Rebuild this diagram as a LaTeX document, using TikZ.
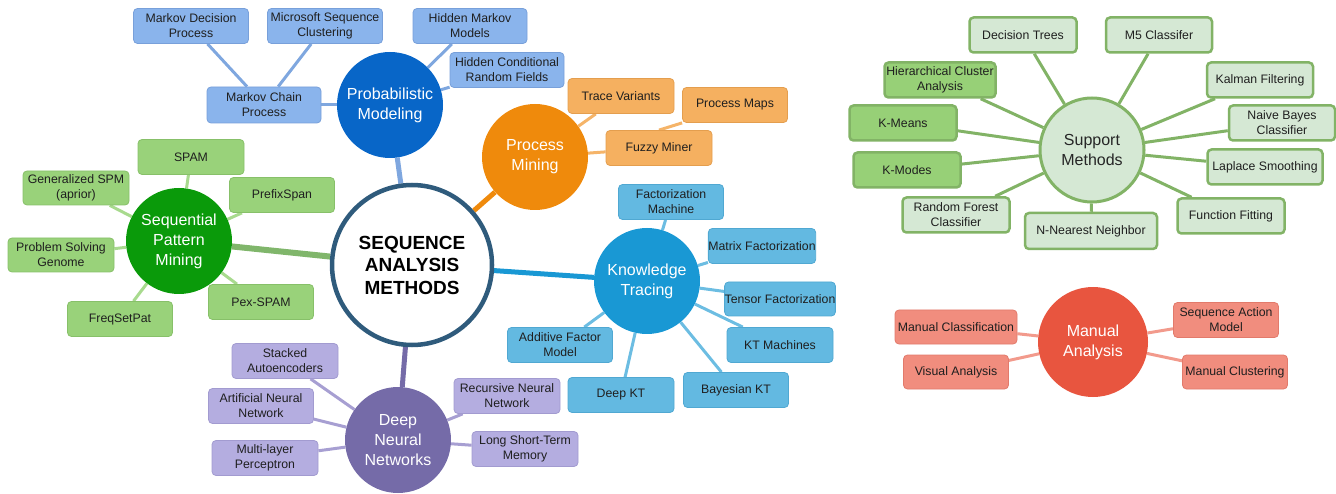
\documentclass[tikz,border=0pt]{standalone}
\usepackage{fontspec}
\setmainfont{Liberation Sans}
\usetikzlibrary{backgrounds}
\definecolor{centborder}{RGB}{47,91,124}
\definecolor{pmhub}{RGB}{8,102,200}
\definecolor{pmleaf}{RGB}{138,180,236}
\definecolor{pmedge}{RGB}{120,160,218}
\definecolor{pmline}{RGB}{127,167,223}
\definecolor{prhub}{RGB}{239,138,12}
\definecolor{prleaf}{RGB}{245,176,96}
\definecolor{predge}{RGB}{228,158,78}
\definecolor{prline}{RGB}{245,180,105}
\definecolor{sphub}{RGB}{10,154,10}
\definecolor{spleaf}{RGB}{153,210,122}
\definecolor{spedge}{RGB}{135,192,105}
\definecolor{spline}{RGB}{168,218,142}
\definecolor{spthick}{RGB}{128,182,107}
\definecolor{kthub}{RGB}{25,152,212}
\definecolor{ktleaf}{RGB}{99,185,225}
\definecolor{ktedge}{RGB}{80,168,210}
\definecolor{ktline}{RGB}{108,189,226}
\definecolor{dnhub}{RGB}{117,107,168}
\definecolor{dnleaf}{RGB}{180,173,224}
\definecolor{dnedge}{RGB}{162,155,208}
\definecolor{dnline}{RGB}{167,159,210}
\definecolor{smfill}{RGB}{213,232,212}
\definecolor{smdark}{RGB}{151,208,119}
\definecolor{smedge}{RGB}{130,179,102}
\definecolor{mahub}{RGB}{232,85,63}
\definecolor{maleaf}{RGB}{241,141,126}
\definecolor{maedge}{RGB}{226,122,107}
\definecolor{maline}{RGB}{242,154,140}
\newcommand\leaffont{\fontsize{12.3}{15}\selectfont}
\newcommand\hubfont{\fontsize{16}{20}\selectfont}
\tikzset{
  leafbox/.style={draw, rounded corners=4pt, line width=0.8pt, inner sep=0pt, align=center, font=\leaffont, text=black!88},
  wh/.style 2 args={minimum width=#1pt, minimum height=#2pt},
  hub/.style={circle, inner sep=0pt, minimum size=106pt, align=center, font=\hubfont, text=white},
  pmbox/.style={leafbox, fill=pmleaf, draw=pmedge},
  prbox/.style={leafbox, fill=prleaf, draw=predge},
  spbox/.style={leafbox, fill=spleaf, draw=spedge},
  ktbox/.style={leafbox, fill=ktleaf, draw=ktedge},
  dnbox/.style={leafbox, fill=dnleaf, draw=dnedge},
  smbox/.style={leafbox, fill=smfill, draw=smedge, line width=2.5pt},
  smdbox/.style={leafbox, fill=smdark, draw=smedge, line width=2.5pt},
  mabox/.style={leafbox, fill=maleaf, draw=maedge},
  thinline/.style={line width=3pt},
  thickline/.style={line width=5pt},
}
\begin{document}
\begin{tikzpicture}[x=1pt,y=-1pt]
\useasboundingbox (0,0) rectangle (1336,494);
% central
\node[circle, draw=centborder, line width=4.5pt, fill=white, minimum size=160pt, inner sep=0pt, align=center,
  font=\fontsize{19}{22.5}\selectfont\bfseries] (cen) at (412,265) {SEQUENCE\\ANALYSIS\\METHODS};
% hubs
\node[hub, fill=pmhub] (pm) at (390,105) {Probabilistic\\Modeling};
\node[hub, fill=prhub] (pr) at (535,157) {Process\\Mining};
\node[hub, fill=sphub] (sp) at (179,241) {Sequential\\Pattern\\Mining};
\node[hub, fill=kthub] (kt) at (647,281) {Knowledge\\Tracing};
\node[hub, fill=dnhub] (dn) at (398,440) {Deep\\Neural\\Networks};
\node[hub, fill=smfill, draw=smedge, line width=3pt, text=black!85, minimum size=104pt] (sm) at (1092,150) {Support\\Methods};
\node[hub, fill=mahub, minimum size=110pt] (ma) at (1093,342) {Manual\\Analysis};
% probabilistic leaves
\node[pmbox, wh={115}{35}] (mdp) at (191,26) {Markov Decision\\Process};
\node[pmbox, wh={115}{35}] (msc) at (325,26) {Microsoft Sequence\\Clustering};
\node[pmbox, wh={114}{35}] (hmm) at (470,26) {Hidden Markov\\Models};
\node[pmbox, wh={114}{35}] (hcrf) at (507,70) {Hidden Conditional\\Random Fields};
\node[pmbox, wh={114}{36}] (mcp) at (264,105) {Markov Chain\\Process};
% process leaves
\node[prbox, wh={106}{35}] (tv) at (621,96) {Trace Variants};
\node[prbox, wh={105}{35}] (pmaps) at (735,105) {Process Maps};
\node[prbox, wh={106}{35}] (fuzzy) at (659,148) {Fuzzy Miner};
% spm leaves
\node[spbox, wh={106}{35}] (spam) at (191,157) {SPAM};
\node[spbox, wh={106}{34}] (gspm) at (76,188) {Generalized SPM\\(aprior)};
\node[spbox, wh={105}{35}] (prefix) at (282,195) {PrefixSpan};
\node[spbox, wh={106}{34}] (psg) at (61,255) {Problem Solving\\Genome};
\node[spbox, wh={105}{35}] (fsp) at (120,319) {FreqSetPat};
\node[spbox, wh={105}{35}] (pex) at (261,302) {Pex-SPAM};
% kt leaves
\node[ktbox, wh={105}{35}] (fm) at (671,202) {Factorization\\Machine};
\node[ktbox, wh={106}{35}] (mf) at (762,246) {Matrix Factorization};
\node[ktbox, wh={106}{34}] (tf) at (780,299) {Tensor Factorization};
\node[ktbox, wh={106}{35}] (ktm) at (780,345) {KT Machines};
\node[ktbox, wh={105}{35}] (bkt) at (736,390) {Bayesian KT};
\node[ktbox, wh={106}{35}] (dkt) at (621,395) {Deep KT};
\node[ktbox, wh={105}{35}] (afm) at (560,345) {Additive Factor\\Model};
% dnn leaves
\node[dnbox, wh={106}{35}] (sae) at (285,361) {Stacked\\Autoencoders};
\node[dnbox, wh={105}{35}] (ann) at (261,406) {Artificial Neural\\Network};
\node[dnbox, wh={106}{35}] (mlp) at (265,458) {Multi-layer\\Perceptron};
\node[dnbox, wh={106}{35}] (rnn) at (507,396) {Recursive Neural\\Network};
\node[dnbox, wh={106}{35}] (lstm) at (525,449) {Long Short-Term\\Memory};
% support leaves
\node[smbox, wh={107}{35}] (dt) at (1023,35) {Decision Trees};
\node[smbox, wh={106}{35}] (m5) at (1159,35) {M5 Classifer};
\node[smdbox, wh={111}{35}] (hca) at (940,80) {Hierarchical Cluster\\Analysis};
\node[smbox, wh={106}{35}] (kf) at (1260,80) {Kalman Filtering};
\node[smdbox, wh={107}{35}] (km) at (903,123) {K-Means};
\node[smbox, wh={106}{35}] (nb) at (1282,123) {Naive Bayes\\Classifier};
\node[smdbox, wh={107}{35}] (kmo) at (907,170) {K-Modes};
\node[smbox, wh={115}{35}] (ls) at (1265,167) {Laplace Smoothing};
\node[smbox, wh={107}{35}] (rf) at (956,215) {Random Forest\\Classifier};
\node[smbox, wh={132}{36}] (nn) at (1091,231) {N-Nearest Neighbor};
\node[smbox, wh={107}{35}] (ff) at (1231,216) {Function Fitting};
% manual leaves
\node[mabox, wh={122}{34}] (mc) at (956,327) {Manual Classification};
\node[mabox, wh={105}{34}] (va) at (956,372) {Visual Analysis};
\node[mabox, wh={105}{35}] (sam) at (1226,320) {Sequence Action\\Model};
\node[mabox, wh={105}{34}] (mcl) at (1235,372) {Manual Clustering};
\begin{pgfonlayer}{background}
  % thick connectors
  \draw[thickline, pmline] (cen) -- (pm);
  \draw[thickline, prhub] (cen) -- (pr);
  \draw[line width=6pt, spthick] (cen) -- (sp);
  \draw[thickline, kthub] (cen) -- (kt);
  \draw[thickline, dnhub] (cen) -- (dn);
  % probabilistic
  \draw[thinline, pmline] (mdp) -- (mcp);
  \draw[thinline, pmline] (msc) -- (mcp);
  \draw[thinline, pmline] (mcp) -- (pm);
  \draw[thinline, pmline] (hmm) -- (pm);
  \draw[thinline, pmline] (hcrf) -- (pm);
  % process
  \draw[thinline, prline] (tv) -- (pr);
  \draw[thinline, prline] (fuzzy) -- (pr);
  \draw[thinline, prline] (pmaps.south west) -- (fuzzy.north);
  % spm
  \foreach \n in {spam,gspm,prefix,psg,fsp,pex} \draw[thinline, spline] (\n) -- (sp);
  % kt
  \foreach \n in {fm,mf,tf,ktm,bkt,dkt,afm} \draw[thinline, ktline] (\n) -- (kt);
  % dnn
  \foreach \n in {sae,ann,mlp,rnn,lstm} \draw[thinline, dnline] (\n) -- (dn);
  % support
  \foreach \n in {dt,m5,hca,kf,km,nb,kmo,ls,rf,nn,ff} \draw[thinline, smedge] (\n) -- (sm);
  % manual
  \foreach \n in {mc,va,sam,mcl} \draw[thinline, maline] (\n) -- (ma);
\end{pgfonlayer}
\end{tikzpicture}
\end{document}
